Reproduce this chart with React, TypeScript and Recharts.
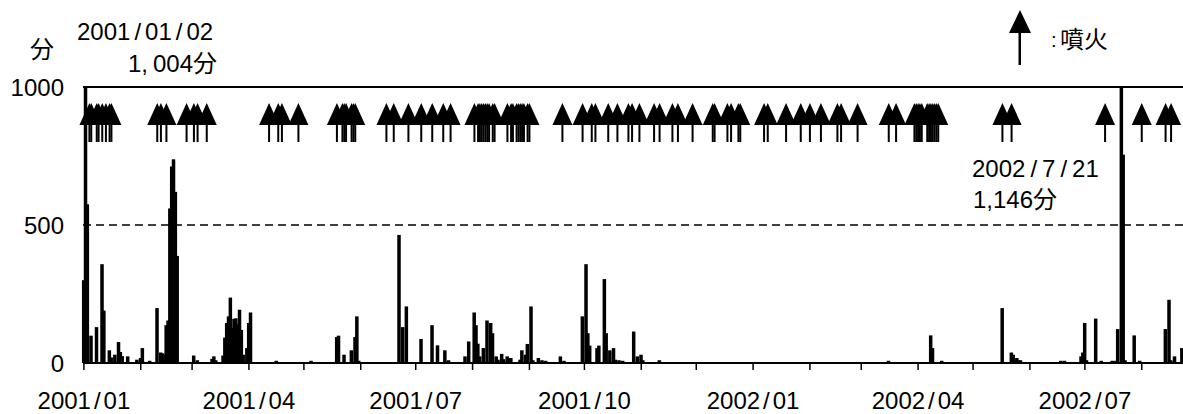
import React from 'react';
import { Bar, ComposedChart, Line, ReferenceLine, XAxis, YAxis } from 'recharts';

const START = Date.UTC(2001, 0, 1);
const DAY_COUNT = 600;
const FONT = "'Liberation Sans', Arial, 'Noto Sans CJK JP', sans-serif";

// daily tremor duration in minutes: [days since 2001/01/01, minutes]; all other days 0
const tremorMinutes: [number, number][] = [
  [0, 300], [1, 1004], [2, 575], [4, 99], [7, 130], [10, 358], [11, 190], [14, 46], [15, 20],
  [17, 30], [19, 76], [20, 40], [21, 25], [24, 24], [29, 12], [31, 18], [32, 54], [36, 8],
  [40, 199], [42, 38], [43, 35], [44, 30], [45, 137], [46, 154], [47, 560], [48, 712],
  [49, 738], [50, 620], [51, 388], [60, 27], [62, 10], [70, 15], [71, 24], [72, 10], [76, 27],
  [77, 92], [78, 145], [79, 169], [80, 237], [81, 127], [82, 160], [83, 162], [84, 140],
  [85, 193], [86, 120], [87, 30], [89, 54], [90, 145], [91, 183], [105, 8], [124, 8],
  [138, 94], [139, 99], [142, 30], [146, 46], [148, 94], [149, 169], [150, 8],
  [172, 464], [174, 130], [176, 205], [184, 87], [190, 137], [193, 64], [197, 46], [199, 10],
  [208, 24], [210, 78], [213, 183], [214, 137], [215, 70], [216, 24], [218, 54], [220, 154],
  [222, 145], [223, 108], [225, 24], [226, 12], [228, 33], [229, 14], [231, 24], [232, 18],
  [233, 18], [238, 12], [239, 46], [241, 30], [242, 69], [244, 205], [245, 10], [248, 18],
  [250, 10], [252, 8], [260, 24], [262, 8], [272, 169], [274, 358], [275, 108], [276, 63],
  [280, 54], [281, 63], [284, 304], [285, 108], [287, 46], [289, 54], [290, 12], [292, 10],
  [294, 8], [300, 114], [302, 24], [304, 30], [305, 10], [314, 10], [439, 8], [462, 100],
  [463, 54], [468, 8], [501, 199], [506, 38], [507, 30], [508, 10], [509, 18], [510, 10],
  [511, 10], [533, 8], [535, 8], [544, 24], [545, 38], [546, 145], [547, 10], [552, 161],
  [555, 8], [561, 8], [563, 8], [564, 123], [566, 1146], [567, 755], [568, 10], [573, 100],
  [576, 8], [590, 123], [592, 229], [593, 10], [595, 24], [599, 54],
];

// eruptions, days since 2001/01/01
const eruptionDays: number[] = [
  3, 4, 7, 8, 10, 12, 14, 15, 40, 42, 45, 56, 60, 62, 67, 101, 106, 108, 117,
  138, 141, 142, 143, 146, 147, 148, 165, 169, 177, 184, 190, 196, 200,
  213, 215, 216, 217, 218, 219, 220, 221, 223, 224, 231, 233, 234, 236, 237, 238, 239, 240,
  242, 243, 261, 272, 277, 279, 286, 291, 297, 299, 303, 311, 314, 321, 324, 332, 343, 344,
  351, 353, 357, 358, 371, 373, 383, 391, 396, 402, 411, 413, 422, 439, 443, 453, 454, 455,
  456, 457, 460, 461, 462, 463, 464, 465, 466, 501, 506, 557, 577, 590, 593,
];

const yTicks = [0, 500, 1000];
const labelMonths = [1, 4, 7, 10];
const ARROW_LEVEL = 942;

const minutesByDay = new Map(tremorMinutes);
const eruptionSet = new Set(eruptionDays);

const data = Array.from({ length: DAY_COUNT }, (_, day) => {
  const d = new Date(START + day * 86400000);
  return {
    day,
    year: d.getUTCFullYear(),
    month: d.getUTCMonth() + 1,
    first: d.getUTCDate() === 1,
    minutes: minutesByDay.get(day) ?? 0,
    eruption: eruptionSet.has(day) ? ARROW_LEVEL : null,
  };
});
const monthTicks = data.filter((d) => d.first).map((d) => d.day);

const spaced = (s: string, gap: number) =>
  s.split('/').flatMap((p, i) =>
    i === 0 ? [p] : [<tspan key={`s${i}`} dx={gap}>/</tspan>, <tspan key={`p${i}`} dx={gap}>{p}</tspan>]
  );

function MonthTick(props: any) {
  const { x, y, payload } = props;
  const d = data[payload.value];
  if (!d || !labelMonths.includes(d.month)) return <g />;
  const label = `${d.year}/${String(d.month).padStart(2, '0')}`;
  return (
    <text x={x} y={y} dy={22} textAnchor="middle" fontSize={24} fontFamily={FONT} fill="#000">
      {spaced(label, 3)}
    </text>
  );
}

// bars drawn a little wider than one day, like the original
function DayBar(props: any) {
  const { x, y, width, height } = props;
  if (!height || height <= 0) return <g />;
  return <rect x={x + width / 2 - 1.75} y={y} width={3.5} height={height} fill="#000" />;
}

function renderArrow(props: any) {
  const { cx, cy, index, payload } = props;
  if (payload?.eruption == null || cx == null || cy == null) return <g key={`a${index}`} />;
  return (
    <g key={`a${index}`}>
      <polygon points={`${cx - 10},${cy + 22} ${cx},${cy} ${cx + 10},${cy + 22}`} fill="#000" />
      <rect x={cx - 1} y={cy + 22} width={2} height={17} fill="#000" />
    </g>
  );
}

export default function App() {
  return (
    <div style={{ position: 'absolute', left: 0, top: 0, width: 1183, height: 414, background: '#fff' }}>
      <ComposedChart width={1183} height={414} data={data} margin={{ top: 87, right: 0, bottom: 21, left: 0 }}>
        <XAxis
          dataKey="day"
          ticks={monthTicks}
          interval={0}
          height={30}
          axisLine={{ stroke: '#000', strokeWidth: 2 }}
          tickLine={{ stroke: '#000', strokeWidth: 1.5 }}
          tickSize={7}
          tickMargin={17}
          tick={<MonthTick />}
        />
        <YAxis
          domain={[0, 1000]}
          ticks={yTicks}
          allowDataOverflow
          width={83}
          axisLine={false}
          tickLine={false}
          tickSize={6}
          tickMargin={13}
          tick={{ fontSize: 24, fill: '#000', fontFamily: FONT }}
        />
        <ReferenceLine y={500} stroke="#000" strokeWidth={1.5} strokeDasharray="8 5" />
        <ReferenceLine y={1000} stroke="#000" strokeWidth={2} />
        <Bar dataKey="minutes" fill="#000" shape={<DayBar />} isAnimationActive={false} />
        <Line
          dataKey="eruption"
          stroke="none"
          dot={renderArrow}
          activeDot={false}
          connectNulls={false}
          isAnimationActive={false}
        />
      </ComposedChart>
      <svg width={1183} height={414} style={{ position: 'absolute', left: 0, top: 0, pointerEvents: 'none' }}>
        <g fontFamily={FONT} fontSize={24} fill="#000">
          <text x={30} y={58}>分</text>
          <text x={77} y={40}>{spaced('2001/01/02', 4)}</text>
          <text x={128} y={72}>1,<tspan dx={5}>004分</tspan></text>
          <text x={972} y={177}>{spaced('2002/7/21', 5)}</text>
          <text x={973} y={208}>1,146分</text>
          <text x={1051} y={47} fontSize={20}>:</text>
          <text x={1060} y={48}>噴火</text>
        </g>
        <polygon points="1009,33 1020,10 1031,33" fill="#000" />
        <rect x={1018.5} y={33} width={2.5} height={32} fill="#000" />
      </svg>
    </div>
  );
}
